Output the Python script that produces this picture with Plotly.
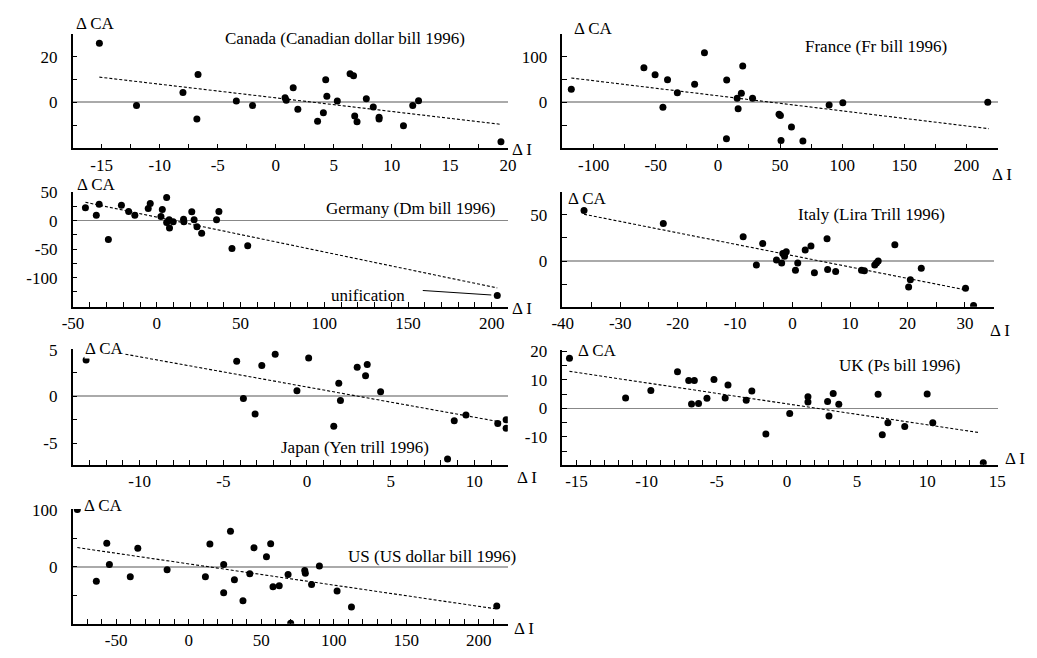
import plotly.graph_objects as go

W, H = 1037, 658          # browser window
OFF = 8                   # default body margin of the page
FW, FH = W - OFF, H - 2 * OFF

# ---------------- data ----------------
canada_di = [-15.2, -12.0, -8.0, -6.7, -6.8, -3.4, -2.0, 0.8, 0.9, 1.5, 1.9, 3.6, 4.1, 4.3, 4.4,
             5.3, 6.4, 6.7, 6.8, 7.0, 7.8, 8.4, 8.9, 8.9, 11.0, 11.8, 12.3, 19.4]
canada_dca = [26.0, -1.4, 4.3, 12.3, -7.4, 0.6, -1.4, 2.0, 0.9, 6.4, -3.1, -8.3, -4.6, 9.9, 2.7,
              0.6, 12.6, 11.7, -6.0, -8.6, 1.6, -2.1, -6.6, -7.4, -10.3, -1.4, 0.7, -17.4]
canada_fit = [1.96, -0.601]          # intercept, slope
canada_fit_x = [-15.2, 19.4]

france_di = [-117.9, -59.5, -50.5, -40.5, -44.2, -32.6, -18.7, -10.8, 7.1, 6.9, 15.5, 16.3,
             18.9, 20.0, 27.9, 49.2, 50.3, 59.2, 50.8, 68.4, 89.5, 100.5, 217.1]
france_dca = [29, 76, 61, 50, -11, 21, 40, 109, 49, -80, 9, -14,
              20, 80, 9, -26, -29, -54, -84, -85, -6, -1, 0]
france_fit = [14.5, -0.332]
france_fit_x = [-117.9, 217.9]

germany_di = [-42.6, -36.1, -34.4, -28.9, -21.1, -16.8, -13.1, -5.1, -3.9, 3.3, 2.5, 5.9, 5.9,
              7.4, 7.6, 9.8, 16.0, 16.2, 20.9, 22.3, 24.0, 26.8, 35.7, 37.1, 44.9, 54.3, 203.3]
germany_dca = [22.9, 9.7, 29.1, -33.1, 27.4, 16.6, 9.7, 21.7, 30.3, 20.0, 7.4, 41.1, -2.9,
               1.7, -12.6, -1.7, 2.9, -1.7, 16.0, 1.7, -10.3, -21.7, 1.7, 16.6, -48.6, -44.0, -131.4]
germany_fit = [6.5, -0.6137]
germany_fit_x = [-42.6, 203.3]

italy_di = [-36.3, -22.5, -8.6, -6.3, -5.2, -2.8, -1.9, -1.7, -1.4, -1.1, 0.5, 0.9, 2.2, 3.2,
            3.8, 6.0, 6.1, 7.5, 12.0, 12.5, 14.3, 14.6, 14.9, 17.8, 20.2, 20.5, 22.4, 30.1, 31.5]
italy_dca = [54.9, 40.8, 26.4, -4.2, 19.0, 1.1, -2.1, 8.1, 5.3, 10.2, -9.9, -2.1, 12.0, 16.2,
             -12.7, 24.3, -9.2, -11.3, -9.9, -10.6, -4.2, -2.1, 0.0, 17.6, -28.2, -20.4, -7.7, -29.6, -48.2]
italy_fit = [5.9, -1.235]
italy_fit_x = [-36.3, 30.1]

japan_di = [-13.2, -4.2, -3.8, -3.1, -2.7, -1.9, -0.6, 0.1, 1.6, 1.9, 2.0, 3.0, 3.5, 3.6, 4.4,
            8.4, 8.8, 9.5, 11.4, 11.9, 11.9]
japan_dca = [3.9, 3.75, -0.24, -1.9, 3.3, 4.5, 0.6, 4.1, -3.2, 1.4, -0.45, 3.1, 2.2, 3.4, 0.5,
             -6.7, -2.6, -2.0, -2.9, -2.5, -3.4]
japan_fit = [1.0, -0.323]
japan_fit_x = [-13.2, 11.6]

uk_di = [-15.5, -11.5, -9.7, -7.8, -7.0, -6.6, -6.8, -6.3, -5.7, -5.2, -4.4, -4.2, -2.9, -2.5,
         -1.5, 0.2, 1.5, 1.5, 2.9, 3.0, 3.3, 3.7, 6.5, 6.8, 7.2, 8.4, 10.0, 10.4, 14.0]
uk_dca = [17.5, 3.6, 6.25, 12.8, 9.7, 9.7, 1.5, 1.7, 3.5, 10.1, 3.6, 8.2, 2.8, 6.1,
          -9.0, -1.8, 4.0, 2.2, 2.4, -2.7, 5.2, 1.4, 4.9, -9.3, -5.1, -6.4, 5.0, -5.1, -19.1]
uk_fit = [1.56, -0.7346]
uk_fit_x = [-15.5, 13.7]

us_di = [-76.8, -63.7, -56.5, -54.7, -40.3, -35.1, -14.9, 11.5, 14.6, 24.1, 24.1, 28.8, 31.5,
         37.4, 42.1, 45.0, 53.6, 56.5, 58.1, 62.4, 68.5, 70.3, 80.0, 80.4, 84.7, 90.1, 102.3, 112.2, 212.4]
us_dca = [100, -25.6, 40.9, 4.0, -17.6, 32.4, -5.1, -17.6, 39.8, 4.0, -45.5, 61.9, -22.7,
          -59.7, -12.5, 33.0, 17.6, 40.3, -35.2, -33.5, -13.6, -98.9, -6.8, -11.4, -31.3, 1.1, -42.6, -70.5, -68.8]
us_fit = [5.0, -0.3714]
us_fit_x = [-76.8, 212.4]

canada_xticks = [-15, -10, -5, 0, 5, 10, 15, 20]
canada_yticks = [0, 20]
france_xticks = [-100, -50, 0, 50, 100, 150, 200]
france_yticks = [0, 100]
germany_xticks = [-50, 0, 50, 100, 150, 200]
germany_yticks = [-100, -50, 0, 50]
italy_xticks = [-40, -30, -20, -10, 0, 10, 20, 30]
italy_yticks = [0, 50]
japan_xticks = [-10, -5, 0, 5, 10]
japan_yticks = [-5, 0, 5]
uk_xticks = [-15, -10, -5, 0, 5, 10, 15]
uk_yticks = [-10, 0, 10, 20]
us_xticks = [-50, 0, 50, 100, 150, 200]
us_yticks = [0, 100]

titles = ["Canada (Canadian dollar bill 1996)", "France (Fr bill 1996)", "Germany (Dm bill 1996)",
          "Italy (Lira Trill 1996)", "Japan (Yen trill 1996)", "UK (Ps bill 1996)",
          "US (US dollar bill 1996)"]
y_label = "\u0394 CA"
x_label = "\u0394 I"
unification_label = "unification"

# ---------------- layout of panels (window pixels) ----------------
panels = [
    dict(di=canada_di, dca=canada_dca, fit=canada_fit, fitx=canada_fit_x,
         xt=canada_xticks, yt=canada_yticks, xm=2.5, ym=10,
         xr=[-17.5, 20.05], yr=[-20.3, 30.3], box=(62.7, 506.7, 26, 144),
         t=(340, 31), ca=(65, 16), dI=(508, 145), zc="#aaaaaa", zw=2),
    dict(di=france_di, dca=france_dca, fit=france_fit, fitx=france_fit_x,
         xt=france_xticks, yt=france_yticks, xm=25, ym=50,
         xr=[-125, 225], yr=[-101.3, 151.5], box=(561.7, 1005, 26, 144),
         t=(880.7, 39), ca=(572, 20.7), dI=(997, 171), zc="#aaaaaa", zw=2),
    dict(di=germany_di, dca=germany_dca, fit=germany_fit, fitx=germany_fit_x,
         xt=germany_xticks, yt=germany_yticks, xm=10, ym=25,
         xr=[-50.2, 210], yr=[-151.5, 51.6], box=(62.7, 506.7, 188.3, 306.7),
         t=(407, 205.7), ca=(66, 181), dI=(508, 308), zc="#888888", zw=1),
    dict(di=italy_di, dca=italy_dca, fit=italy_fit, fitx=italy_fit_x,
         xt=italy_xticks, yt=italy_yticks, xm=5, ym=25,
         xr=[-40.05, 35], yr=[-49.6, 75.4], box=(561.7, 1001, 188.3, 306.7),
         t=(876.7, 212.3), ca=(566, 195), dI=(995, 331), zc="#aaaaaa", zw=2),
    dict(di=japan_di, dca=japan_dca, fit=japan_fit, fitx=japan_fit_x,
         xt=japan_xticks, yt=japan_yticks, xm=1, ym=2.5,
         xr=[-14, 12], yr=[-7.35, 5.07], box=(62.7, 506, 350, 469.3),
         t=(350, 451), ca=(74, 350), dI=(513, 482), zc="#aaaaaa", zw=2, cabg=True),
    dict(di=uk_di, dca=uk_dca, fit=uk_fit, fitx=uk_fit_x,
         xt=uk_xticks, yt=uk_yticks, xm=1, ym=5,
         xr=[-16, 15.02], yr=[-19.8, 20.45], box=(561.7, 1005, 351, 469),
         t=(905, 367.3), ca=(577, 351.7), dI=(1011, 463), zc="#888888", zw=1),
    dict(di=us_di, dca=us_dca, fit=us_fit, fitx=us_fit_x,
         xt=us_xticks, yt=us_yticks, xm=10, ym=50,
         xr=[-80, 220], yr=[-99.8, 101.2], box=(62.7, 506, 514.3, 632.3),
         t=(428.3, 563.7), ca=(73, 510.7), dI=(510, 637), zc="#aaaaaa", zw=2),
]

FONT = "Liberation Serif"
FS = 17

def px(x):
    return (x - OFF) / FW

def py(y):
    return 1 - (y - OFF) / FH

fig = go.Figure()
layout = dict(width=FW, height=FH, margin=dict(l=0, r=0, t=0, b=0), autosize=False,
              paper_bgcolor="white", plot_bgcolor="white", showlegend=False,
              font=dict(family=FONT, size=FS, color="black"))
annotations = []

for i, p in enumerate(panels):
    n = "" if i == 0 else str(i + 1)
    xa, ya = "x" + n, "y" + n
    x0, x1, y0, y1 = p["box"]
    fig.add_trace(go.Scatter(x=p["di"], y=p["dca"], mode="markers", xaxis=xa, yaxis=ya,
                             marker=dict(color="black", size=7), hoverinfo="skip"))
    b, m = p["fit"]
    fx = p["fitx"]
    fig.add_trace(go.Scatter(x=fx, y=[b + m * v for v in fx], mode="lines", xaxis=xa, yaxis=ya,
                             line=dict(color="black", width=1.1, dash="3px,2px"), hoverinfo="skip"))
    common = dict(showline=True, linecolor="black", linewidth=1.5, showgrid=False,
                  ticks="inside", ticklen=5, tickwidth=1, tickcolor="black",
                  tickmode="array", tickfont=dict(family=FONT, size=FS, color="black"))
    layout["xaxis" + n] = dict(common, domain=[px(x0), px(x1)], anchor=ya, range=p["xr"],
                               tickvals=p["xt"], ticktext=[str(v) for v in p["xt"]],
                               zeroline=False, ticklabelstandoff=0,
                               minor=dict(ticks="inside", ticklen=5, tickwidth=1, tickcolor="black",
                                          tickmode="linear", tick0=0, dtick=p["xm"]))
    layout["yaxis" + n] = dict(common, domain=[py(y1), py(y0)], anchor=xa, range=p["yr"],
                               tickvals=p["yt"], ticktext=[str(v) for v in p["yt"]],
                               zeroline=True, zerolinecolor=p["zc"], zerolinewidth=p["zw"],
                               ticklabelstandoff=10,
                               minor=dict(ticks="inside", ticklen=5, tickwidth=1, tickcolor="black",
                                          tickmode="linear", tick0=0, dtick=p["ym"]))
    annotations.append(dict(text=titles[i], x=px(p["t"][0]), y=py(p["t"][1]), xref="paper", yref="paper",
                            xanchor="center", yanchor="middle", showarrow=False))
    annotations.append(dict(text=y_label, x=px(p["ca"][0]), y=py(p["ca"][1]), xref="paper", yref="paper",
                            xanchor="left", yanchor="middle", showarrow=False,
                            bgcolor="white" if p.get("cabg") else None, borderpad=0))
    annotations.append(dict(text=x_label, x=px(p["dI"][0]), y=py(p["dI"][1]), xref="paper", yref="paper",
                            xanchor="left", yanchor="middle", showarrow=False))

# unification label (Germany, last point)
ux, uy = germany_di[-1], germany_dca[-1]
annotations.append(dict(text="", x=ux, y=uy, xref="x3", yref="y3", showarrow=True, arrowhead=0,
                        arrowwidth=1, arrowcolor="black", ax=-76, ay=-5, standoff=6))
annotations.append(dict(text=unification_label, x=ux, y=uy, xref="x3", yref="y3", showarrow=False,
                        xshift=-129, yshift=0, xanchor="center", yanchor="middle"))

layout["annotations"] = annotations
fig.update_layout(**layout)
fig.write_html("out.html", config={"displayModeBar": False})
